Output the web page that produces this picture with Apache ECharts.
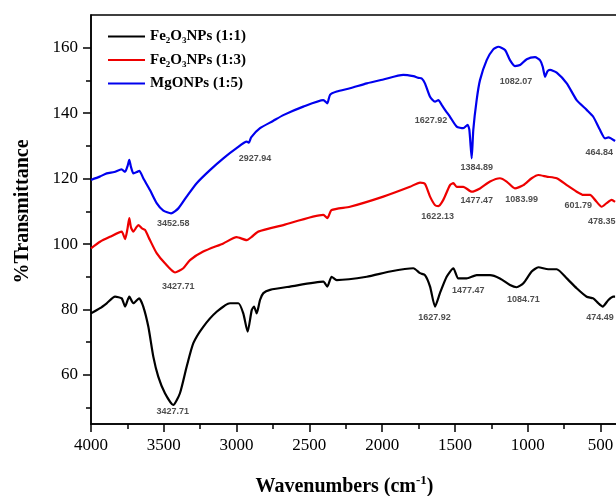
<!DOCTYPE html>
<html>
<head>
<meta charset="utf-8">
<script src="https://cdn.jsdelivr.net/npm/echarts@6/dist/echarts.min.js"></script>
<style>
  html, body { margin: 0; padding: 0; background: #fff; }
  #chart { width: 616px; height: 496px; }
</style>
</head>
<body>
<div id="chart"></div>
<script>
// FTIR spectra, [wavenumber, %T]
const fe2o3_11 = [[4000,78.8],[3938,80.4],[3892,81.9],[3835,83.9],[3789,83.4],[3766,80.9],[3737,83.9],[3709,81.9],[3670,83.4],[3641,80.9],[3606,74.7],[3572,65.6],[3538,59.5],[3492,54.4],[3435,50.8],[3389,54.4],[3343,62.5],[3297,69.7],[3229,74.7],[3137,79.3],[3045,81.9],[2988,81.9],[2954,78.8],[2924,73.2],[2896,79.8],[2880,80.9],[2862,78.8],[2839,82.9],[2816,85.0],[2770,86.0],[2633,87.0],[2404,88.5],[2377,87.0],[2347,90.0],[2312,89.0],[2106,90.0],[1946,91.6],[1786,92.6],[1740,91.1],[1706,90.5],[1671,87.0],[1637,80.9],[1603,85.0],[1557,90.0],[1511,92.6],[1477,89.5],[1420,89.5],[1351,90.5],[1259,90.5],[1191,89.5],[1122,87.5],[1076,86.8],[1030,88.0],[973,91.6],[927,92.9],[859,92.3],[801,92.3],[732,89.5],[664,86.5],[595,83.9],[550,83.4],[515,81.9],[485,80.9],[446,82.9],[412,83.9],[400,83.9]];
const fe2o3_13 = [[4000,98.7],[3938,100.7],[3870,102.2],[3789,103.8],[3766,101.5],[3750,104.5],[3737,107.9],[3725,105.0],[3709,103.8],[3690,105.0],[3675,105.8],[3650,104.8],[3629,104.3],[3595,101.2],[3549,97.2],[3492,94.1],[3423,91.3],[3366,92.6],[3320,95.1],[3229,97.7],[3091,100.2],[3000,102.1],[2930,101.2],[2896,102.2],[2851,103.8],[2679,105.8],[2404,108.9],[2377,107.9],[2347,110.4],[2221,111.4],[1992,114.5],[1809,117.5],[1740,118.8],[1706,118.4],[1671,114.5],[1637,111.9],[1614,111.6],[1580,113.5],[1534,118.0],[1511,118.6],[1488,117.5],[1443,117.5],[1385,116.0],[1328,117.0],[1259,119.1],[1191,120.1],[1145,119.1],[1088,117.0],[1030,118.0],[973,120.1],[927,121.1],[870,120.6],[801,120.1],[732,118.0],[664,116.0],[618,115.0],[572,115.0],[538,113.5],[492,111.4],[458,112.5],[424,113.5],[400,112.9]];
const mgo_15 = [[4000,119.6],[3940,120.6],[3892,121.6],[3840,122.0],[3790,122.8],[3766,122.1],[3748,124.0],[3737,125.7],[3725,123.5],[3709,121.6],[3685,122.0],[3668,122.4],[3641,120.1],[3595,116.5],[3549,112.5],[3503,110.2],[3450,109.4],[3400,110.9],[3343,114.5],[3274,118.6],[3183,122.6],[3091,126.2],[3000,129.3],[2930,131.3],[2915,131.0],[2900,132.6],[2839,135.4],[2750,137.6],[2679,139.4],[2542,142.0],[2404,144.0],[2377,143.0],[2358,145.6],[2312,146.6],[2221,147.6],[2106,149.1],[1992,150.3],[1855,151.7],[1786,151.3],[1750,150.8],[1728,150.6],[1706,149.1],[1671,145.0],[1637,143.5],[1614,144.0],[1591,142.5],[1560,140.5],[1534,138.9],[1488,135.9],[1443,135.4],[1413,136.4],[1401,134.9],[1385,126.2],[1374,134.9],[1351,144.0],[1328,150.1],[1282,156.2],[1237,159.5],[1202,160.3],[1156,159.3],[1122,156.2],[1088,154.4],[1053,154.7],[1007,156.5],[950,157.1],[916,156.2],[897,154.2],[881,151.1],[865,152.8],[847,153.2],[801,152.4],[732,149.1],[664,144.0],[595,141.0],[550,138.9],[504,134.9],[469,132.3],[446,132.6],[400,131.5]];

// peak annotations: where the text sits, and the text
const peakWn = [2873, 3435, 3400, 3439, 1664, 1351, 1081, 508, 1619, 1351, 1042, 653, 492, 1640, 1408, 1030, 504];
const peakT = [126.0, 106.3, 87.0, 48.8, 137.9, 123.5, 149.8, 128.0, 108.4, 113.2, 113.7, 111.7, 106.8, 77.6, 85.8, 83.1, 77.6];
const peakText = ['2927.94', '3452.58', '3427.71', '3427.71', '1627.92', '1384.89', '1082.07', '464.84', '1622.13', '1477.47', '1083.99', '601.79', '478.35', '1627.92', '1477.47', '1084.71', '474.49'];

// axis ticks
const xMajor = [500, 1000, 1500, 2000, 2500, 3000, 3500, 4000];
const xMinor = [750, 1250, 1750, 2250, 2750, 3250, 3750];
const yMajor = [60, 80, 100, 120, 140, 160];
const yMinor = [50, 70, 90, 110, 130, 150];

const serif = "'Liberation Serif', 'Times New Roman', serif";
const names = ['{b|Fe}{s|2}{b|O}{s|3}{b|NPs (1:1)}', '{b|Fe}{s|2}{b|O}{s|3}{b|NPs (1:3)}', '{b|MgONPs (1:5)}'];

const chart = echarts.init(document.getElementById('chart'));

const xBase = { type: 'value', inverse: true, min: 380, max: 4000, position: 'bottom', splitLine: { show: false } };
const yBase = { type: 'value', min: 45, max: 170, position: 'left', splitLine: { show: false } };

const lineSeries = (name, data, color) => ({
  name: name,
  type: 'line',
  data: data,
  symbol: 'none',
  smooth: 0.2,
  lineStyle: { color: color, width: 2.2 },
  itemStyle: { color: color },
  z: 3
});

chart.setOption({
  animation: false,
  grid: {
    left: 91, top: 15, width: 527, height: 409,
    outerBoundsMode: 'none',
    show: true, borderColor: '#000', borderWidth: 1.5, backgroundColor: 'transparent'
  },
  legend: {
    left: 103,
    top: 24,
    orient: 'vertical',
    icon: 'rect',
    itemWidth: 37,
    itemHeight: 2,
    itemGap: 7,
    data: names,
    textStyle: {
      rich: {
        b: { fontFamily: serif, fontWeight: 'bold', fontSize: 15, color: '#000', lineHeight: 18 },
        s: { fontFamily: serif, fontWeight: 'bold', fontSize: 9, color: '#000', lineHeight: 9, verticalAlign: 'bottom' }
      }
    }
  },
  xAxis: [
    Object.assign({}, xBase, {
      name: '{a|Wavenumbers (cm}{p|-1}{a|)}',
      nameLocation: 'middle',
      nameGap: 50,
      nameTextStyle: {
        padding: [0, 20, 0, 0],
        rich: {
          a: { fontFamily: serif, fontWeight: 'bold', fontSize: 20, color: '#000', lineHeight: 26 },
          p: { fontFamily: serif, fontWeight: 'bold', fontSize: 13, color: '#000', lineHeight: 13, verticalAlign: 'top' }
        }
      },
      axisLine: { lineStyle: { color: '#000', width: 1.5 } },
      axisTick: { customValues: xMajor, length: 8, lineStyle: { color: '#000', width: 1.5 } },
      axisLabel: { customValues: xMajor, formatter: v => String(v), margin: 13, color: '#000', fontFamily: serif, fontSize: 17 }
    }),
    Object.assign({}, xBase, {
      axisLine: { show: false },
      axisTick: { customValues: xMinor, length: 5, lineStyle: { color: '#000', width: 1.5 } },
      axisLabel: { show: false }
    })
  ],
  yAxis: [
    Object.assign({}, yBase, {
      name: '%Transmittance',
      nameLocation: 'middle',
      nameGap: 58,
      nameTextStyle: { fontFamily: serif, fontWeight: 'bold', fontSize: 20, color: '#000', padding: [0, 0, 0, 16] },
      axisLine: { show: true, lineStyle: { color: '#000', width: 1.5 } },
      axisTick: { show: true, customValues: yMajor, length: 8, lineStyle: { color: '#000', width: 1.5 } },
      axisLabel: { customValues: yMajor, margin: 13, color: '#000', fontFamily: serif, fontSize: 17 }
    }),
    Object.assign({}, yBase, {
      axisLine: { show: false },
      axisTick: { show: true, customValues: yMinor, length: 5, lineStyle: { color: '#000', width: 1.5 } },
      axisLabel: { show: false }
    })
  ],
  series: [
    lineSeries(names[0], fe2o3_11, '#000000'),
    lineSeries(names[1], fe2o3_13, '#ee0000'),
    lineSeries(names[2], mgo_15, '#0000ee'),
    {
      name: 'peaks',
      type: 'scatter',
      data: peakWn.map((w, i) => [w, peakT[i]]),
      symbolSize: 0,
      silent: true,
      z: 4,
      label: {
        show: true,
        position: 'inside',
        formatter: p => peakText[p.dataIndex],
        fontFamily: "'Liberation Sans', Arial, sans-serif",
        fontWeight: 'bold',
        fontSize: 9,
        color: '#222'
      }
    }
  ]
});
</script>
</body>
</html>
